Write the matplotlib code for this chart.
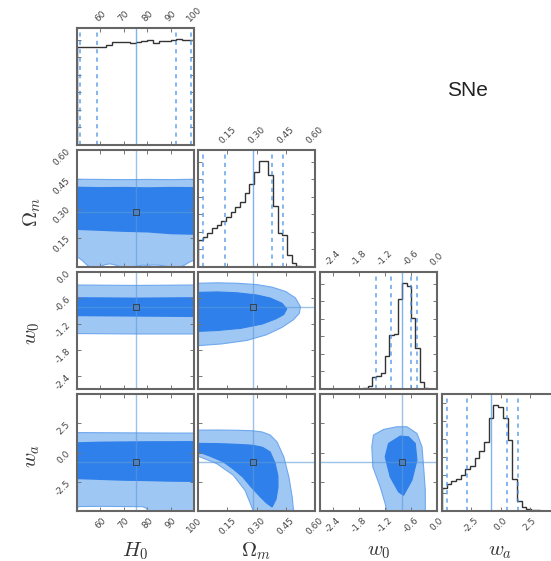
import numpy as np
import matplotlib
matplotlib.use('Agg')
from matplotlib import pyplot as plt
from matplotlib import rcParams
from matplotlib.ticker import MaxNLocator

rcParams['figure.dpi'] = 100
rcParams['mathtext.fontset'] = 'cm'
rcParams['font.size'] = 6.5

# parameters
names = [r'$H_0$', r'$\Omega_m$', r'$w_0$', r'$w_a$']
limits = [(50, 100), (0.0, 0.6), (-2.7, 0.0), (-5.0, 5.0)]
ticks = [[60, 70, 80, 90, 100],
         [0.15, 0.30, 0.45, 0.60],
         [-2.4, -1.8, -1.2, -0.6, 0.0],
         [-2.5, 0.0, 2.5]]
tick_fmt = ['{:.0f}', '{:.2f}', '{:.1f}', '{:.1f}']
medians = [75.0, 0.284, -0.815, -0.85]
quantiles = [[51.25, 58.4, 92.2, 98.9],
             [0.026, 0.138, 0.38, 0.436],
             [-1.41, -1.06, -0.60, -0.47],
             [-4.55, -2.89, 0.53, 1.52]]

# 1D marginal histograms (normalised heights)
h0_hist = [0.837, 0.837, 0.837, 0.837, 0.840, 0.850, 0.880, 0.880, 0.880, 0.875,
           0.880, 0.885, 0.895, 0.872, 0.885, 0.885, 0.900, 0.908, 0.894, 0.894]
om_hist = [0.23, 0.26, 0.29, 0.33, 0.36, 0.39, 0.43, 0.47, 0.51, 0.56, 0.63, 0.71,
           0.81, 0.91, 0.91, 0.79, 0.52, 0.29, 0.27, 0.10, 0.03, 0.01, 0.003, 0.0, 0.0]
w0_hist = [0, 0, 0, 0, 0, 0, 0, 0, 0, 0.003, 0.01, 0.025, 0.10, 0.11, 0.14, 0.28,
           0.46, 0.47, 0.77, 0.91, 0.88, 0.61, 0.35, 0.06, 0.01, 0.0, 0.0]
wa_hist = [0.19, 0.23, 0.25, 0.27, 0.30, 0.35, 0.38, 0.44, 0.50, 0.58, 0.78, 0.89,
           0.87, 0.78, 0.59, 0.27, 0.08, 0.03, 0.02, 0.01, 0.005, 0.0, 0.0, 0.0, 0.0]
hists = [h0_hist, om_hist, w0_hist, wa_hist]

# 2D credible regions: (x list, y list) outlines
# H0 - Omega_m
h0_om_light_top = ([50, 60, 70, 80, 90, 100], [0.450, 0.449, 0.448, 0.449, 0.448, 0.450])
h0_om_light_bot = ([50, 51, 52, 53, 54, 55, 56, 58, 60, 62, 64, 66, 68, 70, 72, 74, 76, 78,
                    80, 82, 84, 86, 88, 90, 92, 94, 96, 98, 100],
                   [0.05, 0.045, 0.036, 0.025, 0.013, 0.004, 0.0, 0.0, 0.003, 0.012, 0.016,
                    0.012, 0.003, 0.0, 0.0, 0.0, 0.004, 0.010, 0.008, 0.010, 0.010, 0.008,
                    0.004, 0.0, 0.0, 0.0, 0.01, 0.025, 0.035])
h0_om_dark_top = ([50, 60, 70, 80, 90, 100], [0.412, 0.410, 0.411, 0.409, 0.411, 0.410])
h0_om_dark_bot = ([50, 60, 70, 80, 90, 100], [0.190, 0.185, 0.180, 0.177, 0.168, 0.165])
# H0 - w0
h0_w0_light_top = ([50, 75, 100], [-0.30, -0.31, -0.30])
h0_w0_light_bot = ([50, 75, 100], [-1.42, -1.43, -1.43])
h0_w0_dark_top = ([50, 75, 100], [-0.58, -0.59, -0.58])
h0_w0_dark_bot = ([50, 75, 100], [-1.02, -1.03, -1.04])
# H0 - wa
h0_wa_light_top = ([50, 60, 70, 80, 90, 100], [1.70, 1.69, 1.68, 1.67, 1.66, 1.66])
h0_wa_light_bot = ([50, 51, 60, 70, 78, 79.5, 80.5, 100], [-4.70, -4.62, -4.60, -4.62, -4.63, -4.75, -5.0, -5.0])
h0_wa_dark_top = ([50, 60, 70, 80, 90, 100], [0.88, 0.93, 0.95, 0.97, 0.97, 0.98])
h0_wa_dark_bot = ([50, 60, 70, 80, 90, 100], [-2.28, -2.35, -2.42, -2.45, -2.50, -2.52])
# Omega_m - w0
om_w0_light = ([0.0, 0.10, 0.20, 0.30, 0.38, 0.45, 0.50, 0.525, 0.52, 0.49, 0.43, 0.35, 0.25, 0.12, 0.0],
               [-0.26, -0.25, -0.26, -0.29, -0.35, -0.45, -0.60, -0.80, -0.95, -1.10, -1.28, -1.45, -1.58, -1.66, -1.70])
om_w0_dark = ([0.0, 0.10, 0.20, 0.30, 0.37, 0.43, 0.455, 0.44, 0.40, 0.33, 0.22, 0.10, 0.0],
              [-0.47, -0.46, -0.48, -0.53, -0.60, -0.72, -0.85, -0.98, -1.08, -1.20, -1.30, -1.35, -1.37])
# Omega_m - wa
om_wa_light = ([0.0, 0.10, 0.20, 0.28, 0.33, 0.37, 0.405, 0.44, 0.466, 0.483, 0.49, 0.284, 0.241, 0.181, 0.095, 0.0],
               [1.91, 1.92, 1.90, 1.86, 1.75, 1.50, 0.91, -0.37, -2.09, -3.80, -5.0, -5.0, -3.23, -1.94, -0.94, -0.31])
om_wa_dark = ([0.0, 0.10, 0.20, 0.28, 0.33, 0.37, 0.395, 0.41, 0.41, 0.40, 0.38, 0.35, 0.32, 0.27, 0.23, 0.18, 0.13, 0.06, 0.0],
              [0.78, 0.76, 0.70, 0.62, 0.45, 0.05, -0.90, -2.0, -3.0, -4.0, -4.66, -4.30, -3.80, -2.90, -2.10, -1.40, -0.80, -0.30, 0.06])
# w0 - wa
w0_wa_light = ([-0.926, -0.694, -0.463, -0.347, -0.309, -0.27, -0.27, -1.157, -1.196, -1.311, -1.481, -1.504, -1.466, -1.234],
               [2.2, 2.2, 1.63, 0.49, -1.23, -3.23, -5.0, -5.0, -4.37, -2.94, -1.23, 0.49, 1.49, 1.97])
w0_wa_dark = ([-0.849, -0.656, -0.501, -0.463, -0.579, -0.771, -0.887, -1.08, -1.196, -1.119],
              [1.4, 1.34, 0.77, -0.66, -2.37, -3.66, -3.37, -2.09, -0.37, 0.77])

dark = '#2f80ea'
light = '#9fc7f4'
edge = '#6ea8ee'
qcol = '#4a95e8'
frame = '#666666'

W, H = 551.0, 561.0
col_left = [77, 198, 320, 442]
row_top = [28, 150, 272, 394]
size = 117

fig = plt.figure(figsize=(W / 100, H / 100))


def band(ax, top, bot, color):
    xs = list(top[0]) + list(bot[0])[::-1]
    ys = list(top[1]) + list(bot[1])[::-1]
    ax.fill(xs, ys, color=color, lw=0)
    if color == light:
        ax.plot(top[0], top[1], color=edge, lw=0.8)
        ax.plot(bot[0], bot[1], color=edge, lw=0.8)


def blob(ax, outline, color):
    ax.fill(outline[0], outline[1], facecolor=color, edgecolor=edge if color == light else color, lw=0.8)


def style(ax):
    for s in ax.spines.values():
        s.set_color(frame)
        s.set_linewidth(1.5)
    ax.tick_params(direction='in', length=3, width=0.7, color='#777777',
                   top=True, right=True, labelcolor='#444444', labelsize=6.5)


for i in range(4):
    for j in range(i + 1):
        ax = fig.add_axes([col_left[j] / W, 1 - (row_top[i] + size) / H, size / W, size / H])
        style(ax)
        ax.set_xlim(limits[j])
        ax.set_xticks(ticks[j])
        if i == j:
            h = hists[i]
            edges = np.linspace(limits[i][0], limits[i][1], len(h) + 1)
            ax.stairs(h, edges, color='#333333', lw=1.0)
            for q in quantiles[i]:
                ax.axvline(q, color=qcol, ls=(0, (2.5, 2.5)), lw=1.2, alpha=0.8)
            ax.axvline(medians[i], color=qcol, lw=1.0, alpha=0.7)
            ax.set_ylim(0, 1.1 * max(h))
            ax.yaxis.set_major_locator(MaxNLocator(8))
            ax.set_yticklabels([])
            if i < 3:
                ax.tick_params(labeltop=True, labelbottom=False)
            ax.set_xticklabels([tick_fmt[j].format(t) for t in ticks[j]], rotation=45)
            continue

        key = (j, i)
        if key == (0, 1):
            band(ax, h0_om_light_top, h0_om_light_bot, light)
            band(ax, h0_om_dark_top, h0_om_dark_bot, dark)
        elif key == (0, 2):
            band(ax, h0_w0_light_top, h0_w0_light_bot, light)
            band(ax, h0_w0_dark_top, h0_w0_dark_bot, dark)
        elif key == (0, 3):
            band(ax, h0_wa_light_top, h0_wa_light_bot, light)
            band(ax, h0_wa_dark_top, h0_wa_dark_bot, dark)
        elif key == (1, 2):
            blob(ax, om_w0_light, light)
            blob(ax, om_w0_dark, dark)
        elif key == (1, 3):
            blob(ax, om_wa_light, light)
            blob(ax, om_wa_dark, dark)
        elif key == (2, 3):
            blob(ax, w0_wa_light, light)
            blob(ax, w0_wa_dark, dark)
        ax.set_xlim(limits[j])
        ax.set_ylim(limits[i])
        ax.set_xticks(ticks[j])
        ax.set_yticks(ticks[i])

        ax.axvline(medians[j], color='#5b9ad8', lw=1.0, alpha=0.6)
        ax.axhline(medians[i], color='#5b9ad8', lw=1.0, alpha=0.6)
        ax.plot(medians[j], medians[i], 's', ms=5, mfc='#4f7fb5', mec='#333333', mew=0.7, alpha=0.8)

        if j == 0:
            ax.set_yticklabels([tick_fmt[i].format(t) for t in ticks[i]], rotation=45)
        else:
            ax.set_yticklabels([])
        if i == 3:
            ax.set_xticklabels([tick_fmt[j].format(t) for t in ticks[j]], rotation=45)
        else:
            ax.set_xticklabels([])

# axis labels
for k in range(4):
    fig.text((col_left[k] + size / 2) / W, 1 - 551 / H, names[k],
             ha='center', va='center', fontsize=15, color='#333333')
for k in range(1, 4):
    fig.text(32 / W, 1 - (row_top[k] + size / 2 + 3) / H, names[k],
             ha='center', va='center', rotation=90, fontsize=15, color='#333333')

fig.text(447 / W, 1 - 91 / H, 'SNe', ha='left', va='center', fontsize=15,
         family='Liberation Sans', color='#222222')

fig.savefig('out.png', dpi=100)
